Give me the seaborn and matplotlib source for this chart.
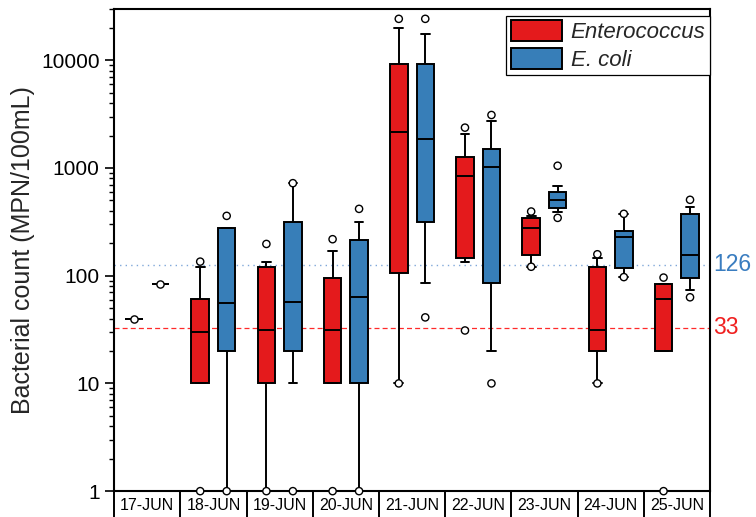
import numpy as np
import pandas as pd
import seaborn as sns
import matplotlib.pyplot as plt
from matplotlib.patches import Patch
from matplotlib.ticker import LogLocator, NullFormatter
import matplotlib.transforms as mtransforms

dates = ['17-JUN', '18-JUN', '19-JUN', '20-JUN', '21-JUN', '22-JUN', '23-JUN', '24-JUN', '25-JUN']
species = ['Enterococcus', 'E. coli']

# box summaries: whisker low, Q1, median, Q3, whisker high
ent_low = [40, 10, 1, 10, 10, 134, 121, 10, 20]
ent_q1 = [40, 10, 10, 10, 107, 146, 156, 20, 20]
ent_med = [40, 30, 31, 31, 2170, 834, 278, 31, 61]
ent_q3 = [40, 61, 120, 96, 9240, 1271, 344, 120, 83]
ent_high = [40, 120, 134, 171, 19860, 2050, 361, 146, 83]
ent_points = [[40], [1, 135], [1, 197], [1, 218], [10, 24200], [31, 2366], [121, 394], [10, 158], [1, 96]]

eco_low = [83, 1, 10, 1, 85, 20, 391, 97, 74]
eco_q1 = [83, 20, 20, 10, 316, 85, 423, 119, 96]
eco_med = [83, 56, 57, 63, 1854, 1011, 502, 230, 157]
eco_q3 = [83, 278, 318, 215, 9240, 1497, 592, 262, 377]
eco_high = [83, 278, 722, 318, 17450, 2750, 683, 375, 432]
eco_points = [[83], [1, 359], [1, 722], [1, 417], [41, 24200], [10, 3100], [344, 1048], [97, 375], [63, 506]]

limits = [33, 126]   # Enterococcus / E. coli guideline values

colors = {'Enterococcus': '#E41A1C', 'E. coli': '#377EB8'}

# long tables for seaborn
box_rows = []
pt_rows = []
for sp, stats, pts in [('Enterococcus', (ent_low, ent_q1, ent_med, ent_q3, ent_high), ent_points),
                       ('E. coli', (eco_low, eco_q1, eco_med, eco_q3, eco_high), eco_points)]:
    for i, d in enumerate(dates):
        for s in stats:
            box_rows.append((d, sp, s[i]))
        for v in pts[i]:
            pt_rows.append((d, sp, v))
box_df = pd.DataFrame(box_rows, columns=['date', 'species', 'count'])
pt_df = pd.DataFrame(pt_rows, columns=['date', 'species', 'count'])

sns.set_style('ticks')
plt.rcParams['font.family'] = ['Liberation Sans', 'DejaVu Sans']
plt.rcParams['axes.edgecolor'] = 'black'
plt.rcParams['xtick.color'] = 'black'
plt.rcParams['ytick.color'] = 'black'

fig = plt.figure(figsize=(7.56, 5.17), dpi=100)
ax = fig.add_axes([0.151, 0.050, 0.788, 0.933])

# guideline lines behind the boxes
ax.axhline(limits[0], color='#FF2A2A', lw=0.9, ls=(0, (4, 2.5)), zorder=0.5)
ax.axhline(limits[1], color='#7FA7D9', lw=1.0, ls=(0, (1, 3)), zorder=0.5)

sns.boxplot(data=box_df, x='date', y='count', hue='species', order=dates, hue_order=species,
            palette=colors, saturation=1, width=0.8, gap=0.34, whis=(0, 100),
            linecolor='black', linewidth=1.4, log_scale=True, legend=False, ax=ax)

sns.stripplot(data=pt_df, x='date', y='count', hue='species', order=dates, hue_order=species,
              palette={'Enterococcus': 'white', 'E. coli': 'white'}, dodge=True, jitter=False,
              size=5.2, edgecolor='black', linewidth=1.0, legend=False, ax=ax, zorder=5)
for coll in ax.collections:
    coll.set_clip_on(False)

ax.set_yscale('log')
ax.set_ylim(1, 30000)
ax.set_yticks([1, 10, 100, 1000, 10000])
ax.set_yticklabels(['1', '10', '100', '1000', '10000'])
ax.yaxis.set_minor_locator(LogLocator(base=10, subs=np.arange(2, 10)))
ax.yaxis.set_minor_formatter(NullFormatter())
ax.tick_params(axis='y', which='major', length=6.5, width=1.2, labelsize=15, pad=4)
ax.tick_params(axis='y', which='minor', length=3.5, width=1.0)

ax.set_xlim(-0.5, 8.5)
ax.set_xticks(np.arange(-0.5, 9, 1))
ax.set_xticklabels([])
ax.set_xticks(np.arange(9), minor=True)
ax.set_xticklabels(dates, minor=True)
ax.tick_params(axis='x', which='major', length=19, width=1.4)
ax.tick_params(axis='x', which='minor', length=0, labelsize=11.5, pad=5)

ax.set_xlabel('')
ax.set_ylabel('Bacterial count (MPN/100mL)', fontsize=18, labelpad=4)
for sp in ax.spines.values():
    sp.set_linewidth(1.5)

trans = mtransforms.blended_transform_factory(ax.transAxes, ax.transData)
ax.text(1.006, limits[1], '126', color='#3A7DC0', fontsize=16.5, va='center', ha='left', transform=trans)
ax.text(1.006, limits[0], '33', color='#F02020', fontsize=16.5, va='center', ha='left', transform=trans)

handles = [Patch(facecolor=colors[s], edgecolor='black', linewidth=1.4) for s in species]
leg = ax.legend(handles, species, loc='upper right', bbox_to_anchor=(1.0, 0.986), borderaxespad=0,
                prop={'style': 'italic', 'size': 16}, handlelength=2.3, handleheight=1.1,
                labelspacing=0.2, borderpad=0.2, handletextpad=0.4, fancybox=False, framealpha=1)
leg.get_frame().set_edgecolor('black')
leg.get_frame().set_linewidth(0.9)

fig.savefig('out.png', dpi=100)
